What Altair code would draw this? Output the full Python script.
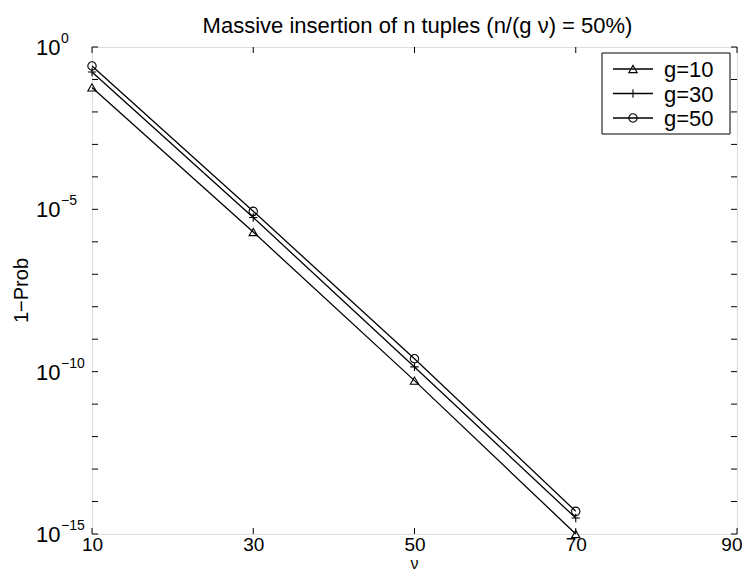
import altair as alt
import pandas as pd

# ---- data ----
nu_values = [10, 30, 50, 70]
series_names = ["g=10", "g=30", "g=50"]
prob_g10 = [0.057, 2.0e-6, 5.3e-11, 1.0e-15]
prob_g30 = [0.17, 5.6e-6, 1.4e-10, 3.1e-15]
prob_g50 = [0.26, 8.7e-6, 2.5e-10, 5.0e-15]
x_ticks = [10, 30, 50, 70, 90]
y_decades = list(range(0, -16, -1))
y_label_exps = [0, -5, -10, -15]
shape_range = ["triangle-up", "M-1,0H1M0,-1V1", "circle"]
title_text = "Massive insertion of n tuples (n/(g ν) = 50%)"
x_title = "ν"
y_title = "1−Prob"

rows = []
for name, vals in zip(series_names, [prob_g10, prob_g30, prob_g50]):
    for nu, p in zip(nu_values, vals):
        rows.append({"series": name, "nu": nu, "p": p})
df = pd.DataFrame(rows)

W, H = 645, 487
FONT = "Liberation Sans"

xscale = alt.Scale(domain=[10, 90], nice=False, zero=False)
yscale = alt.Scale(type="log", domain=[1e-15, 1], nice=False)

x_enc = alt.X("nu:Q", scale=xscale,
              axis=alt.Axis(values=x_ticks, ticks=False, domain=False, grid=False,
                            labelFlush=False, labelFontSize=19, labelPadding=1,
                            labelFont=FONT, labelColor="black", title=None,
                            labelAlign=alt.condition("datum.value == 90",
                                                     alt.value("right"),
                                                     alt.value("center")),
                            labelOffset=alt.condition("datum.value == 90",
                                                      alt.value(5), alt.value(0))))
y_enc = alt.Y("p:Q", scale=yscale,
              axis=alt.Axis(labels=False, ticks=False, domain=False, grid=False,
                            title=None))

shape_scale = alt.Scale(domain=series_names, range=shape_range)

lines = alt.Chart(df).mark_line(color="black", strokeWidth=1.3).encode(
    x=x_enc, y=y_enc, detail="series:N")
points = alt.Chart(df).mark_point(filled=False, color="black", size=70, strokeWidth=1.1,
                                  opacity=1).encode(
    x=alt.X("nu:Q", scale=xscale), y=alt.Y("p:Q", scale=yscale),
    shape=alt.Shape("series:N", scale=shape_scale, legend=None))

# inward ticks on all four sides
ydf = pd.DataFrame({"p": [10.0 ** e for e in y_decades]})
xdf = pd.DataFrame({"nu": x_ticks})
ytick_l = alt.Chart(ydf).mark_rule(color="black", strokeWidth=1).encode(
    y=alt.Y("p:Q", scale=yscale), x=alt.value(0), x2=alt.value(6))
ytick_r = alt.Chart(ydf).mark_rule(color="black", strokeWidth=1).encode(
    y=alt.Y("p:Q", scale=yscale), x=alt.value(W - 6), x2=alt.value(W))
xtick_b = alt.Chart(xdf).mark_rule(color="black", strokeWidth=1).encode(
    x=alt.X("nu:Q", scale=xscale), y=alt.value(H), y2=alt.value(H - 6))
xtick_t = alt.Chart(xdf).mark_rule(color="black", strokeWidth=1).encode(
    x=alt.X("nu:Q", scale=xscale), y=alt.value(0), y2=alt.value(6))

# y tick labels with superscript exponents
ldf = pd.DataFrame({"p": [10.0 ** e for e in y_label_exps],
                    "base": ["10"] * len(y_label_exps),
                    "exp": [("−" + str(-e)) if e < 0 else str(e) for e in y_label_exps]})
ybase = alt.Chart(ldf).mark_text(align="left", baseline="middle", fontSize=22,
                                 font=FONT, color="black", dy=1).encode(
    y=alt.Y("p:Q", scale=yscale), x=alt.value(-56), text="base:N")
yexp = alt.Chart(ldf).mark_text(align="left", baseline="alphabetic", fontSize=14,
                                font=FONT, color="black", dy=-4).encode(
    y=alt.Y("p:Q", scale=yscale), x=alt.value(-31), text="exp:N")

# titles
tdf = pd.DataFrame({"t": [title_text], "xt": [x_title], "yt": [y_title]})
title_mark = alt.Chart(tdf).mark_text(
    align="center", baseline="alphabetic", fontSize=22, font=FONT, color="black").encode(
    x=alt.value(W / 2 + 3), y=alt.value(-14), text="t:N")
xtitle_mark = alt.Chart(tdf).mark_text(
    align="center", baseline="bottom", fontSize=16, font=FONT, color="black").encode(
    x=alt.value(W / 2), y=alt.value(H + 38), text="xt:N")
ytitle_mark = alt.Chart(tdf).mark_text(
    align="center", baseline="middle", fontSize=20, font=FONT, color="black",
    angle=270).encode(
    x=alt.value(-70), y=alt.value(H / 2), text="yt:N")

# legend
leg_layers = []
leg_box = alt.Chart(pd.DataFrame({"a": [0]})).mark_rect(
    fill="white", stroke="black", strokeWidth=1).encode(
    x=alt.value(510), x2=alt.value(638), y=alt.value(6), y2=alt.value(87))
leg_layers.append(leg_box)
for i, name in enumerate(series_names):
    d = pd.DataFrame({"series": [name]})
    yy = 22 + 24.5 * i
    leg_layers.append(alt.Chart(d).mark_rule(color="black", strokeWidth=1.3).encode(
        x=alt.value(521), x2=alt.value(561), y=alt.value(yy)))
    leg_layers.append(alt.Chart(d).mark_point(filled=False, color="black", size=70,
                                              strokeWidth=1.1, opacity=1).encode(
        x=alt.value(541), y=alt.value(yy),
        shape=alt.Shape("series:N", scale=shape_scale, legend=None)))
    leg_layers.append(alt.Chart(d).mark_text(align="left", baseline="middle", fontSize=22,
                                             font=FONT, color="black").encode(
        x=alt.value(572), y=alt.value(yy + 1), text="series:N"))

chart = alt.layer(lines, points, ytick_l, ytick_r, xtick_b, xtick_t, ybase, yexp,
                  title_mark, xtitle_mark, ytitle_mark, *leg_layers).properties(
    width=W, height=H,
    autosize=alt.AutoSizeParams(type="none"),
    padding={"left": 84, "top": 39, "right": 5, "bottom": 39},
).configure_view(stroke="black", strokeWidth=1.2).configure(background="white")

chart.save("out.html", embed_options={"renderer": "svg", "actions": False})
